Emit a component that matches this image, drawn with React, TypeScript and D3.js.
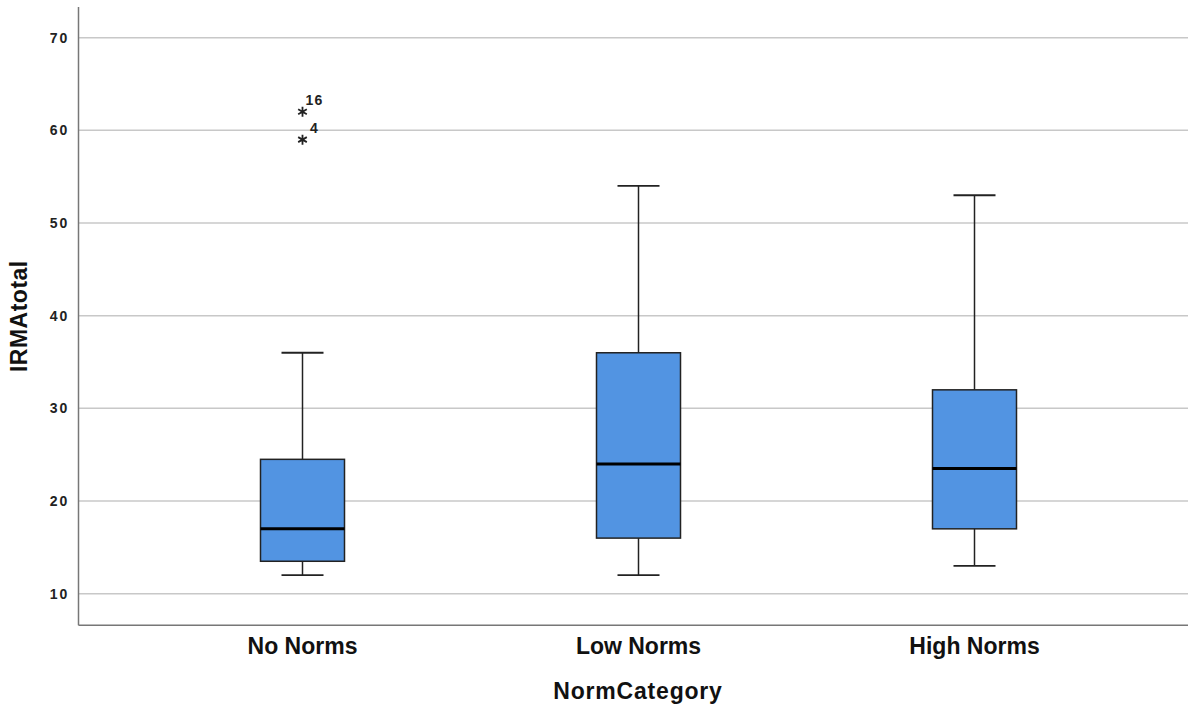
import * as d3 from "d3";

// values
const categories = ["No Norms", "Low Norms", "High Norms"];
const whiskerLow = [12, 12, 13];
const q1 = [13.5, 16, 17];
const median = [17, 24, 23.5];
const q3 = [24.5, 36, 32];
const whiskerHigh = [36, 54, 53];

const outlierCategory = ["No Norms", "No Norms"];
const outlierValue = [62, 59];
const outlierLabel = ["16", "4"];

const yTicks = [10, 20, 30, 40, 50, 60, 70];
const yDomainMin = 6.6;
const yDomainMax = 73.3;

const W = 1191;
const H = 706;
const plotLeft = 78.5;
const plotRight = 1188;

const font = "'Liberation Sans', Arial, Helvetica, sans-serif";

export default function App() {
  const y = d3.scaleLinear().domain([10, 70]).range([593.7, 37.7]);
  const x = d3
    .scalePoint<string>()
    .domain(categories)
    .range([plotLeft, 1198.5])
    .padding(2 / 3);

  const boxW = 84;
  const capW = 42;
  const plotBottom = y(yDomainMin);
  const plotTop = y(yDomainMax);

  const boxes = categories.map((c, i) => {
    const cx = x(c)!;
    return (
      <g key={c}>
        <line x1={cx} x2={cx} y1={y(whiskerHigh[i])} y2={y(q3[i])} stroke="#222" strokeWidth={1.5} />
        <line x1={cx} x2={cx} y1={y(q1[i])} y2={y(whiskerLow[i])} stroke="#222" strokeWidth={1.5} />
        <line x1={cx - capW / 2} x2={cx + capW / 2} y1={y(whiskerHigh[i])} y2={y(whiskerHigh[i])} stroke="#222" strokeWidth={1.8} />
        <line x1={cx - capW / 2} x2={cx + capW / 2} y1={y(whiskerLow[i])} y2={y(whiskerLow[i])} stroke="#222" strokeWidth={1.8} />
        <rect
          x={cx - boxW / 2}
          y={y(q3[i])}
          width={boxW}
          height={y(q1[i]) - y(q3[i])}
          fill="#5294e2"
          stroke="#222"
          strokeWidth={1.5}
        />
        <line x1={cx - boxW / 2} x2={cx + boxW / 2} y1={y(median[i])} y2={y(median[i])} stroke="#000" strokeWidth={3} />
      </g>
    );
  });

  const star = d3.symbol(d3.symbolAsterisk, 70)();

  const outliers = outlierValue.map((v, i) => {
    const cx = x(outlierCategory[i])!;
    const cy = y(v);
    return (
      <g key={i}>
        <path d={star ?? ""} transform={`translate(${cx},${cy})`} fill="none" stroke="#222" strokeWidth={1.8} />
        <text x={cx + 12} y={cy - 7} textAnchor="middle" fontSize={14} fontWeight="bold" fill="#222" letterSpacing={1.2}>
          {outlierLabel[i]}
        </text>
      </g>
    );
  });

  return (
    <svg width={W} height={H} style={{ position: "absolute", left: 0, top: 0 }} fontFamily={font}>
      <rect width={W} height={H} fill="#fff" />
      {yTicks.map((t) => (
        <g key={t}>
          <line x1={plotLeft} x2={plotRight} y1={y(t)} y2={y(t)} stroke="#c8c8c8" strokeWidth={1.5} />
          <text x={69} y={y(t)} dy="0.36em" textAnchor="end" fontSize={14} fontWeight="bold" fill="#222" letterSpacing={1.8}>
            {t}
          </text>
        </g>
      ))}
      <line x1={plotLeft} x2={plotLeft} y1={plotTop} y2={plotBottom} stroke="#777" strokeWidth={1.5} />
      <line x1={plotLeft} x2={plotRight} y1={plotBottom} y2={plotBottom} stroke="#777" strokeWidth={1.5} />
      {boxes}
      {outliers}
      {categories.map((c) => (
        <text key={c} x={x(c)!} y={654} textAnchor="middle" fontSize={23} fontWeight="bold" fill="#111">
          {c}
        </text>
      ))}
      <text x={638} y={699} textAnchor="middle" fontSize={23} fontWeight="bold" fill="#111" letterSpacing={0.8}>
        NormCategory
      </text>
      <text
        transform={`translate(27,${(plotTop + plotBottom) / 2}) rotate(-90)`}
        textAnchor="middle"
        fontSize={23}
        fontWeight="bold"
        fill="#111"
        letterSpacing={0.5}
      >
        IRMAtotal
      </text>
    </svg>
  );
}
